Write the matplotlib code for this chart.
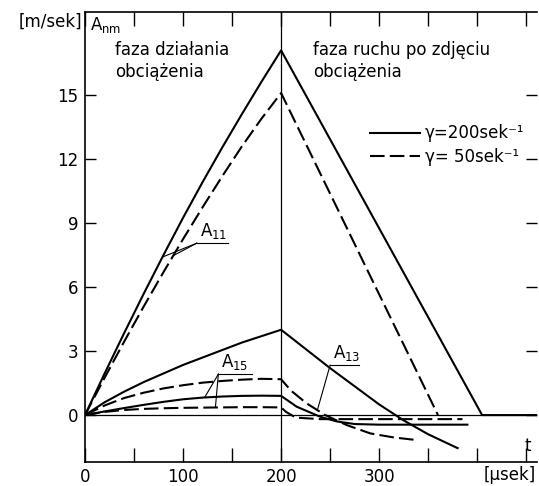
import numpy as np
import matplotlib.pyplot as plt
from matplotlib.lines import Line2D

plt.rcParams['font.family'] = ['DejaVu Sans']

# czas narastania obciazenia [usek]
t_up = [0, 20, 40, 60, 80, 100, 120, 140, 160, 180, 200]

# A11
a11_g200_up = [0, 1.95, 3.85, 5.7, 7.5, 9.25, 10.93, 12.55, 14.11, 15.63, 17.1]
a11_g50_up = [0, 1.75, 3.45, 5.1, 6.7, 8.25, 9.75, 11.2, 12.6, 13.9, 15.1]
t_a11_g200_dn = [200, 405, 462]
a11_g200_dn = [17.1, 0, 0]
t_a11_g50_dn = [200, 360]
a11_g50_dn = [15.1, 0]

# A13
a13_g200_up = [0, 0.6, 1.1, 1.55, 1.95, 2.35, 2.7, 3.05, 3.4, 3.7, 4.0]
a13_g50_up = [0, 0.45, 0.8, 1.05, 1.25, 1.4, 1.52, 1.6, 1.66, 1.7, 1.68]
t_a13_g200_dn = [200, 225, 250, 275, 300, 325, 350, 380]
a13_g200_dn = [4.0, 3.1, 2.2, 1.35, 0.5, -0.25, -0.9, -1.55]
t_a13_g50_dn = [200, 210, 226, 245, 267, 291, 315, 340]
a13_g50_dn = [1.68, 1.15, 0.55, 0.0, -0.47, -0.86, -1.05, -1.18]

# A15
a15_g200_up = [0, 0.17, 0.33, 0.48, 0.62, 0.74, 0.82, 0.87, 0.9, 0.91, 0.9]
a15_g50_up = [0, 0.15, 0.24, 0.29, 0.32, 0.34, 0.35, 0.36, 0.37, 0.37, 0.36]
t_a15_g200_dn = [200, 216, 240, 257, 275, 300, 390]
a15_g200_dn = [0.9, 0.39, -0.08, -0.3, -0.42, -0.45, -0.45]
t_a15_g50_dn = [200, 205, 215, 240, 385]
a15_g50_dn = [0.36, 0.15, -0.12, -0.19, -0.19]

yticks = [0, 3, 6, 9, 12, 15]
xticks_lab = [0, 100, 200, 300]

fig = plt.figure(figsize=(5.39, 4.86), dpi=100)
ax = fig.add_axes([0.1577, 0.0494, 0.8386, 0.9259])

lw = 1.5
dash = (7, 2.5)

def both(t1, y1, t2, y2, dashed):
    t = list(t1) + list(t2[1:])
    y = list(y1) + list(y2[1:])
    if dashed:
        ax.plot(t, y, color='black', lw=lw, dashes=dash)
    else:
        ax.plot(t, y, color='black', lw=lw)
    return t, y

s11 = both(t_up, a11_g200_up, t_a11_g200_dn, a11_g200_dn, False)
d11 = both(t_up, a11_g50_up, t_a11_g50_dn, a11_g50_dn, True)
s13 = both(t_up, a13_g200_up, t_a13_g200_dn, a13_g200_dn, False)
d13 = both(t_up, a13_g50_up, t_a13_g50_dn, a13_g50_dn, True)
s15 = both(t_up, a15_g200_up, t_a15_g200_dn, a15_g200_dn, False)
d15 = both(t_up, a15_g50_up, t_a15_g50_dn, a15_g50_dn, True)

ax.axhline(0, color='black', lw=0.9)
ax.axvline(200, color='black', lw=0.9)

ax.set_xlim(0, 461)
ax.set_ylim(-2.2, 18.9)

# podpisy krzywych z odnosnikami
def label(name, tx, ty, ul_len, targets):
    ax.text(tx + 3, ty + 0.1, name, fontsize=12, ha='left', va='bottom')
    ax.plot([tx, tx + ul_len], [ty, ty], color='black', lw=0.8)
    for (tt, yy), tpt in targets:
        ax.plot([tx, tpt], [ty, np.interp(tpt, tt, yy)], color='black', lw=0.8)

label('$\\mathregular{A_{11}}$', 114, 8.06, 32, [(s11, 79), (d11, 90)])
label('$\\mathregular{A_{15}}$', 136, 1.92, 34, [(s15, 122), (d15, 133)])
label('$\\mathregular{A_{13}}$', 250, 2.34, 29, [(d13, 237)])

ax.text(0.066, 0.935, 'faza działania\nobciążenia', transform=ax.transAxes,
        fontsize=12, va='top', ha='left', linespacing=1.3)
ax.text(0.504, 0.935, 'faza ruchu po zdjęciu\nobciążenia', transform=ax.transAxes,
        fontsize=12, va='top', ha='left', linespacing=1.3)

ax.text(-0.077, 0.978, '[m/sek]', transform=ax.transAxes, fontsize=12,
        ha='center', va='center')
ax.text(0.011, 0.972, '$\\mathregular{A_{nm}}$', transform=ax.transAxes,
        fontsize=12, ha='left', va='center')
ax.text(0.98, 0.035, 't', transform=ax.transAxes, fontsize=12,
        ha='center', va='center')
ax.text(0.998, -0.01, '[µsek]', transform=ax.transAxes, fontsize=12,
        ha='right', va='top')

handles = [Line2D([], [], color='black', lw=lw),
           Line2D([], [], color='black', lw=lw, dashes=dash)]
ax.legend(handles, ['γ=200sek⁻¹', 'γ= 50sek⁻¹'], loc='upper left',
          bbox_to_anchor=(0.615, 0.765), frameon=False, fontsize=12,
          handlelength=3.0, handletextpad=0.3, labelspacing=0.35,
          borderaxespad=0)

# osie i znaczniki
ax.set_yticks(yticks)
ax.set_yticklabels([str(v) for v in yticks])
ax.set_xticks(xticks_lab)
ax.set_xticklabels([str(v) for v in xticks_lab])
ax.set_xticks([50, 150, 250, 350, 400, 450], minor=True)
ax.tick_params(axis='both', which='both', direction='in', labelsize=12,
               width=1, color='black')
ax.tick_params(axis='y', which='major', length=8, pad=5, right=True)
ax.tick_params(axis='x', which='both', length=10, pad=4, top=True)
ax.spines['right'].set_visible(False)
for s in ['left', 'bottom', 'top']:
    ax.spines[s].set_linewidth(1.2)

fig.savefig('out.png', dpi=100)
